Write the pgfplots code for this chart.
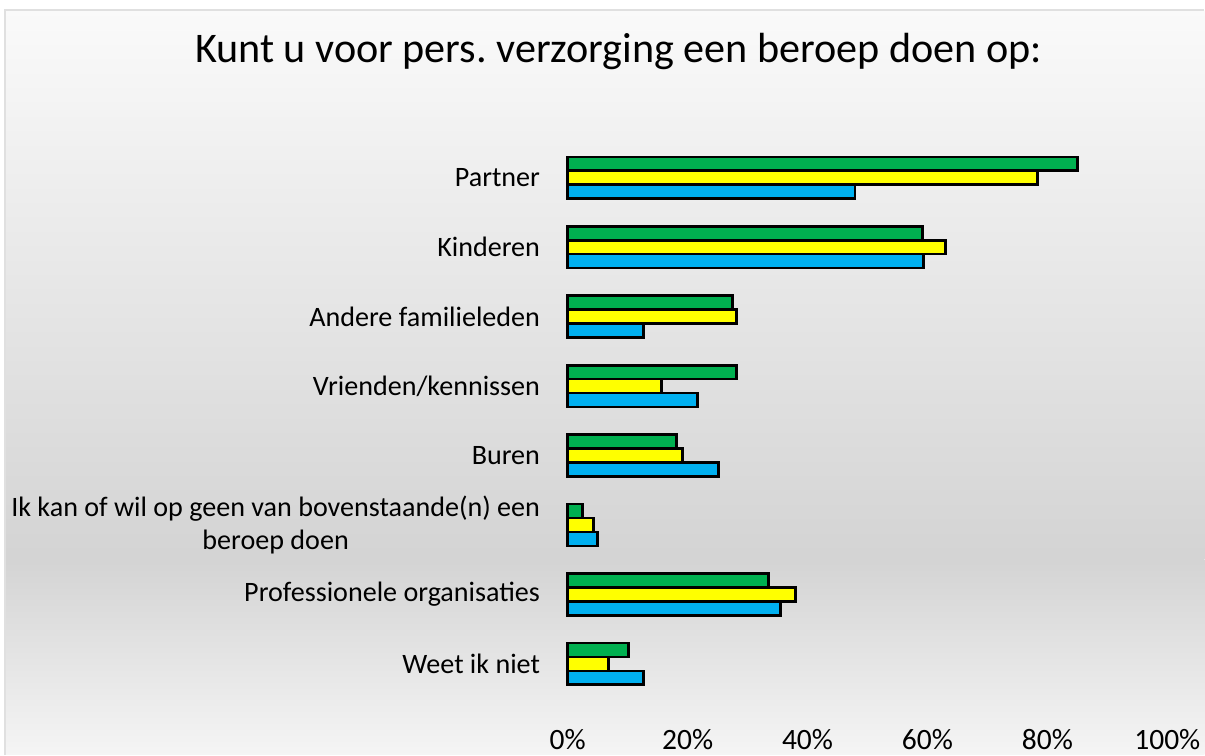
\documentclass[border=0pt]{standalone}
\usepackage{pgfplots}
\pgfplotsset{compat=1.18}
\usepackage{fontspec}
\setmainfont{Carlito}
\frenchspacing
\definecolor{cgreen}{HTML}{00B050}
\definecolor{cyellow}{HTML}{FFFF00}
\definecolor{cblue}{HTML}{00B0F0}
\begin{document}
\begin{tikzpicture}
% canvas 12.05cm x 7.55cm (1px = 0.01cm)
\fill[white] (0,0) rectangle (12.05cm,7.55cm);
\shade[top color=black!2, bottom color=black!17] (0.05cm,1.95cm) rectangle (12.05cm,7.45cm);
\shade[top color=black!17, bottom color=black!4] (0.05cm,0cm) rectangle (12.05cm,1.95cm);
\draw[black!12, line width=0.4pt] (0.05cm,0cm) -- (0.05cm,7.45cm) -- (12.05cm,7.45cm);
\node[font=\fontsize{12pt}{14pt}\selectfont] at (6.19cm,7.03cm) {Kunt u voor pers. verzorging een beroep doen op:};
\begin{axis}[
  at={(5.68cm,0.56cm)}, anchor=south west,
  width=6cm, height=5.56cm, scale only axis,
  xmin=0, xmax=100, ymin=-0.5, ymax=7.5, y dir=reverse,
  xbar, bar width=0.2,
  axis line style={draw=none}, major tick length=0,
  ytick={0,...,7},
  yticklabels={Partner,Kinderen,Andere familieleden,Vrienden/kennissen,Buren,{Ik kan of wil op geen van bovenstaande(n) een\\beroep doen},Professionele organisaties,Weet ik niet},
  yticklabel style={anchor=east, inner sep=0pt, xshift=-0.27cm, align=center, font=\fontsize{8pt}{9.4pt}\selectfont},
  xtick={0,20,...,100},
  xticklabels={0\%,20\%,40\%,60\%,80\%,100\%},
  xticklabel style={anchor=north, inner sep=0pt, yshift=-0.3cm, font=\fontsize{8.4pt}{10pt}\selectfont},
  every axis plot/.append style={draw=black, line width=0.75pt},
  clip=false,
]
\addplot[fill=cgreen, bar shift=-0.2] coordinates {(85.0,0) (59.2,1) (27.5,2) (28.2,3) (18.1,4) (2.5,5) (33.5,6) (10.1,7)};
\addplot[fill=cyellow, bar shift=0] coordinates {(78.4,0) (63.0,1) (28.2,2) (15.6,3) (19.2,4) (4.3,5) (38.0,6) (6.8,7)};
\addplot[fill=cblue, bar shift=0.2] coordinates {(47.9,0) (59.3,1) (12.6,2) (21.6,3) (25.2,4) (5.0,5) (35.5,6) (12.6,7)};
\end{axis}
\end{tikzpicture}
\end{document}
